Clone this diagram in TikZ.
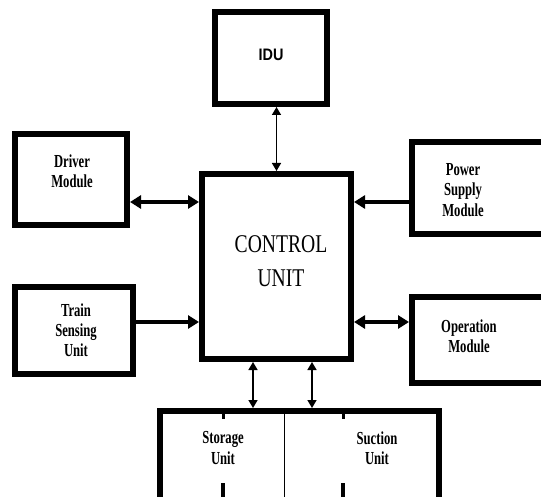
\documentclass[tikz,border=0pt]{standalone}
\usepackage{fontspec}
\setmainfont{Liberation Serif}
\newfontfamily\idufont{Liberation Sans}
\usetikzlibrary{arrows.meta,calc,positioning}

\begin{document}
\begin{tikzpicture}[x=1bp,y=-1bp,
    blk/.style={draw,line width=6bp,minimum width=#1,inner sep=0pt},
    lbl/.style={align=center,inner sep=0pt,yscale=1.45,transform shape,font=\bfseries\fontsize{12.7}{14}\selectfont},
    bigarrow/.style={line width=4.8bp,{Triangle[length=11bp,width=13bp]}-{Triangle[length=11bp,width=13bp]}},
    bigin/.style={line width=4.8bp,-{Triangle[length=11bp,width=13bp]}},
    thinarrow/.style={line width=1.5bp,{Triangle[length=8bp,width=9bp]}-{Triangle[length=8bp,width=9bp]}}]
  \useasboundingbox (0,0) rectangle (541,497);
  \clip (0,0) rectangle (541,497);
  % boxes
  \node[blk=112bp,minimum height=92bp] (idu) at (271,58) {};
  \node[blk=112bp,minimum height=91bp] (drv) at (71,179.5) {};
  \node[blk=149bp,minimum height=185bp] (cu) at (276.5,266.5) {};
  \node[blk=148bp,minimum height=92bp] (ps) at (486,188) {};
  \node[blk=118bp,minimum height=87bp] (tsu) at (74,330.5) {};
  \node[blk=148bp,minimum height=86bp] (op) at (486,340) {};
  \node[blk=279bp,minimum height=99bp] (bot) at (299.5,460.5) {};
  \draw[line width=1bp] (bot.north -| 284,0) -- (bot.south -| 284,0);
  \foreach \x in {223,343}{
    \draw[line width=3bp] (\x,413) -- (\x,419);
    \draw[line width=4bp] (\x,483) -- (\x,497);
  }
  % labels
  \node[inner sep=0pt,yscale=1.15,transform shape,font=\idufont\bfseries\fontsize{14.5}{18}\selectfont] (idutxt) at (271,55) {IDU};
  \node[lbl] (drvtxt) at (72,171) {Driver\\Module};
  \node[lbl] (pstxt) at (463,190) {Power\\Supply\\Module};
  \node[align=center,inner sep=0pt,yscale=1.3,transform shape,font=\fontsize{19.7}{26}\selectfont] (cutxt) at (281,261) {CONTROL\\UNIT};
  \node[lbl] (tsutxt) at (76,330) {Train\\Sensing\\Unit};
  \node[lbl] (optxt) at (469,336) {Operation\\Module};
  \node[lbl] (sttxt) at (223,448) {Storage\\Unit};
  \node[lbl] (sutxt) at (377,448) {Suction\\Unit};
  % connectors
  \draw[thinarrow] (cu.north |- idu.south) -- (cu.north);
  \draw[bigarrow] (drv.east |- 0,202) -- (cu.west |- 0,202);
  \draw[bigin] (ps.west |- 0,202) -- (cu.east |- 0,202);
  \draw[bigin] (tsu.east |- 0,322) -- (cu.west |- 0,322);
  \draw[bigarrow] (cu.east |- 0,322) -- (op.west |- 0,322);
  \draw[thinarrow] (cu.south -| 253,0) -- (bot.north -| 253,0);
  \draw[thinarrow] (cu.south -| 312,0) -- (bot.north -| 312,0);
\end{tikzpicture}
\end{document}
